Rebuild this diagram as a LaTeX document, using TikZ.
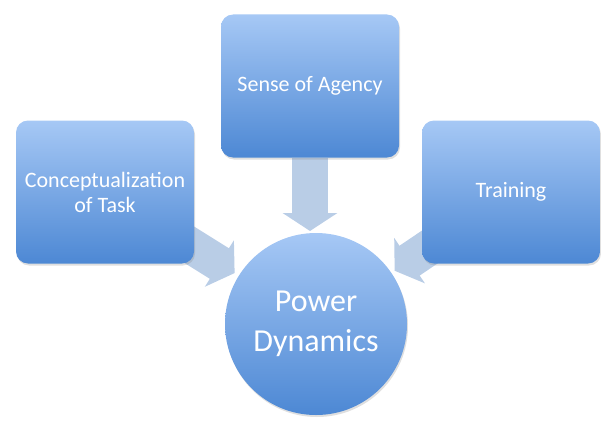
\documentclass[tikz,border=0pt]{standalone}
\usepackage{fontspec}
\setmainfont{Carlito}
\usetikzlibrary{arrows.meta,calc,shadows}
\pgfdeclarelayer{background}
\pgfsetlayers{background,main}
\definecolor{boxtop}{HTML}{A6C8F5}
\definecolor{boxbot}{HTML}{4D88D4}
\definecolor{arrowc}{HTML}{B9CDE6}
\tikzset{
  box/.style={rounded corners=12pt, minimum width=178pt, minimum height=143pt,
    top color=boxtop, bottom color=boxbot, text=white, align=center,
    font=\fontsize{22}{25}\selectfont,
    drop shadow={opacity=0.25, shadow xshift=1pt, shadow yshift=-2pt}},
  hub/.style={circle, minimum size=182pt, inner sep=0pt,
    top color=boxtop, bottom color=boxbot, text=white, align=center,
    font=\fontsize{32}{40}\selectfont,
    drop shadow={opacity=0.25, shadow xshift=1pt, shadow yshift=-2pt}},
  blockarrow/.style={draw=arrowc, line width=36pt,
    -{Triangle[width=54pt,length=18pt]}}
}
\begin{document}
\begin{tikzpicture}[x=1pt,y=-1pt]
\useasboundingbox (0,0) rectangle (601,428);
\node[box] (ct) at (105,192) {Conceptualization\\of Task};
\node[box] (ag) at (310,86) {Sense of Agency};
\node[box] (tr) at (511,192) {Training};
\node[hub] (pd) at (316,324) {Power\\Dynamics};
\coordinate (tipL) at ($(pd.center)!96pt!(ct.center)$);
\coordinate (srcL) at ($(pd.center)!175pt!(ct.center)$);
\coordinate (tipR) at ($(pd.center)!95pt!(tr.center)$);
\coordinate (srcR) at ($(pd.center)!175pt!(tr.center)$);
\coordinate (tipT) at (310,231);
\begin{pgfonlayer}{background}
\draw[blockarrow] (srcL) -- (tipL);
\draw[blockarrow] (srcR) -- (tipR);
\draw[blockarrow] (ag.south) -- (tipT);
\end{pgfonlayer}
\end{tikzpicture}
\end{document}
